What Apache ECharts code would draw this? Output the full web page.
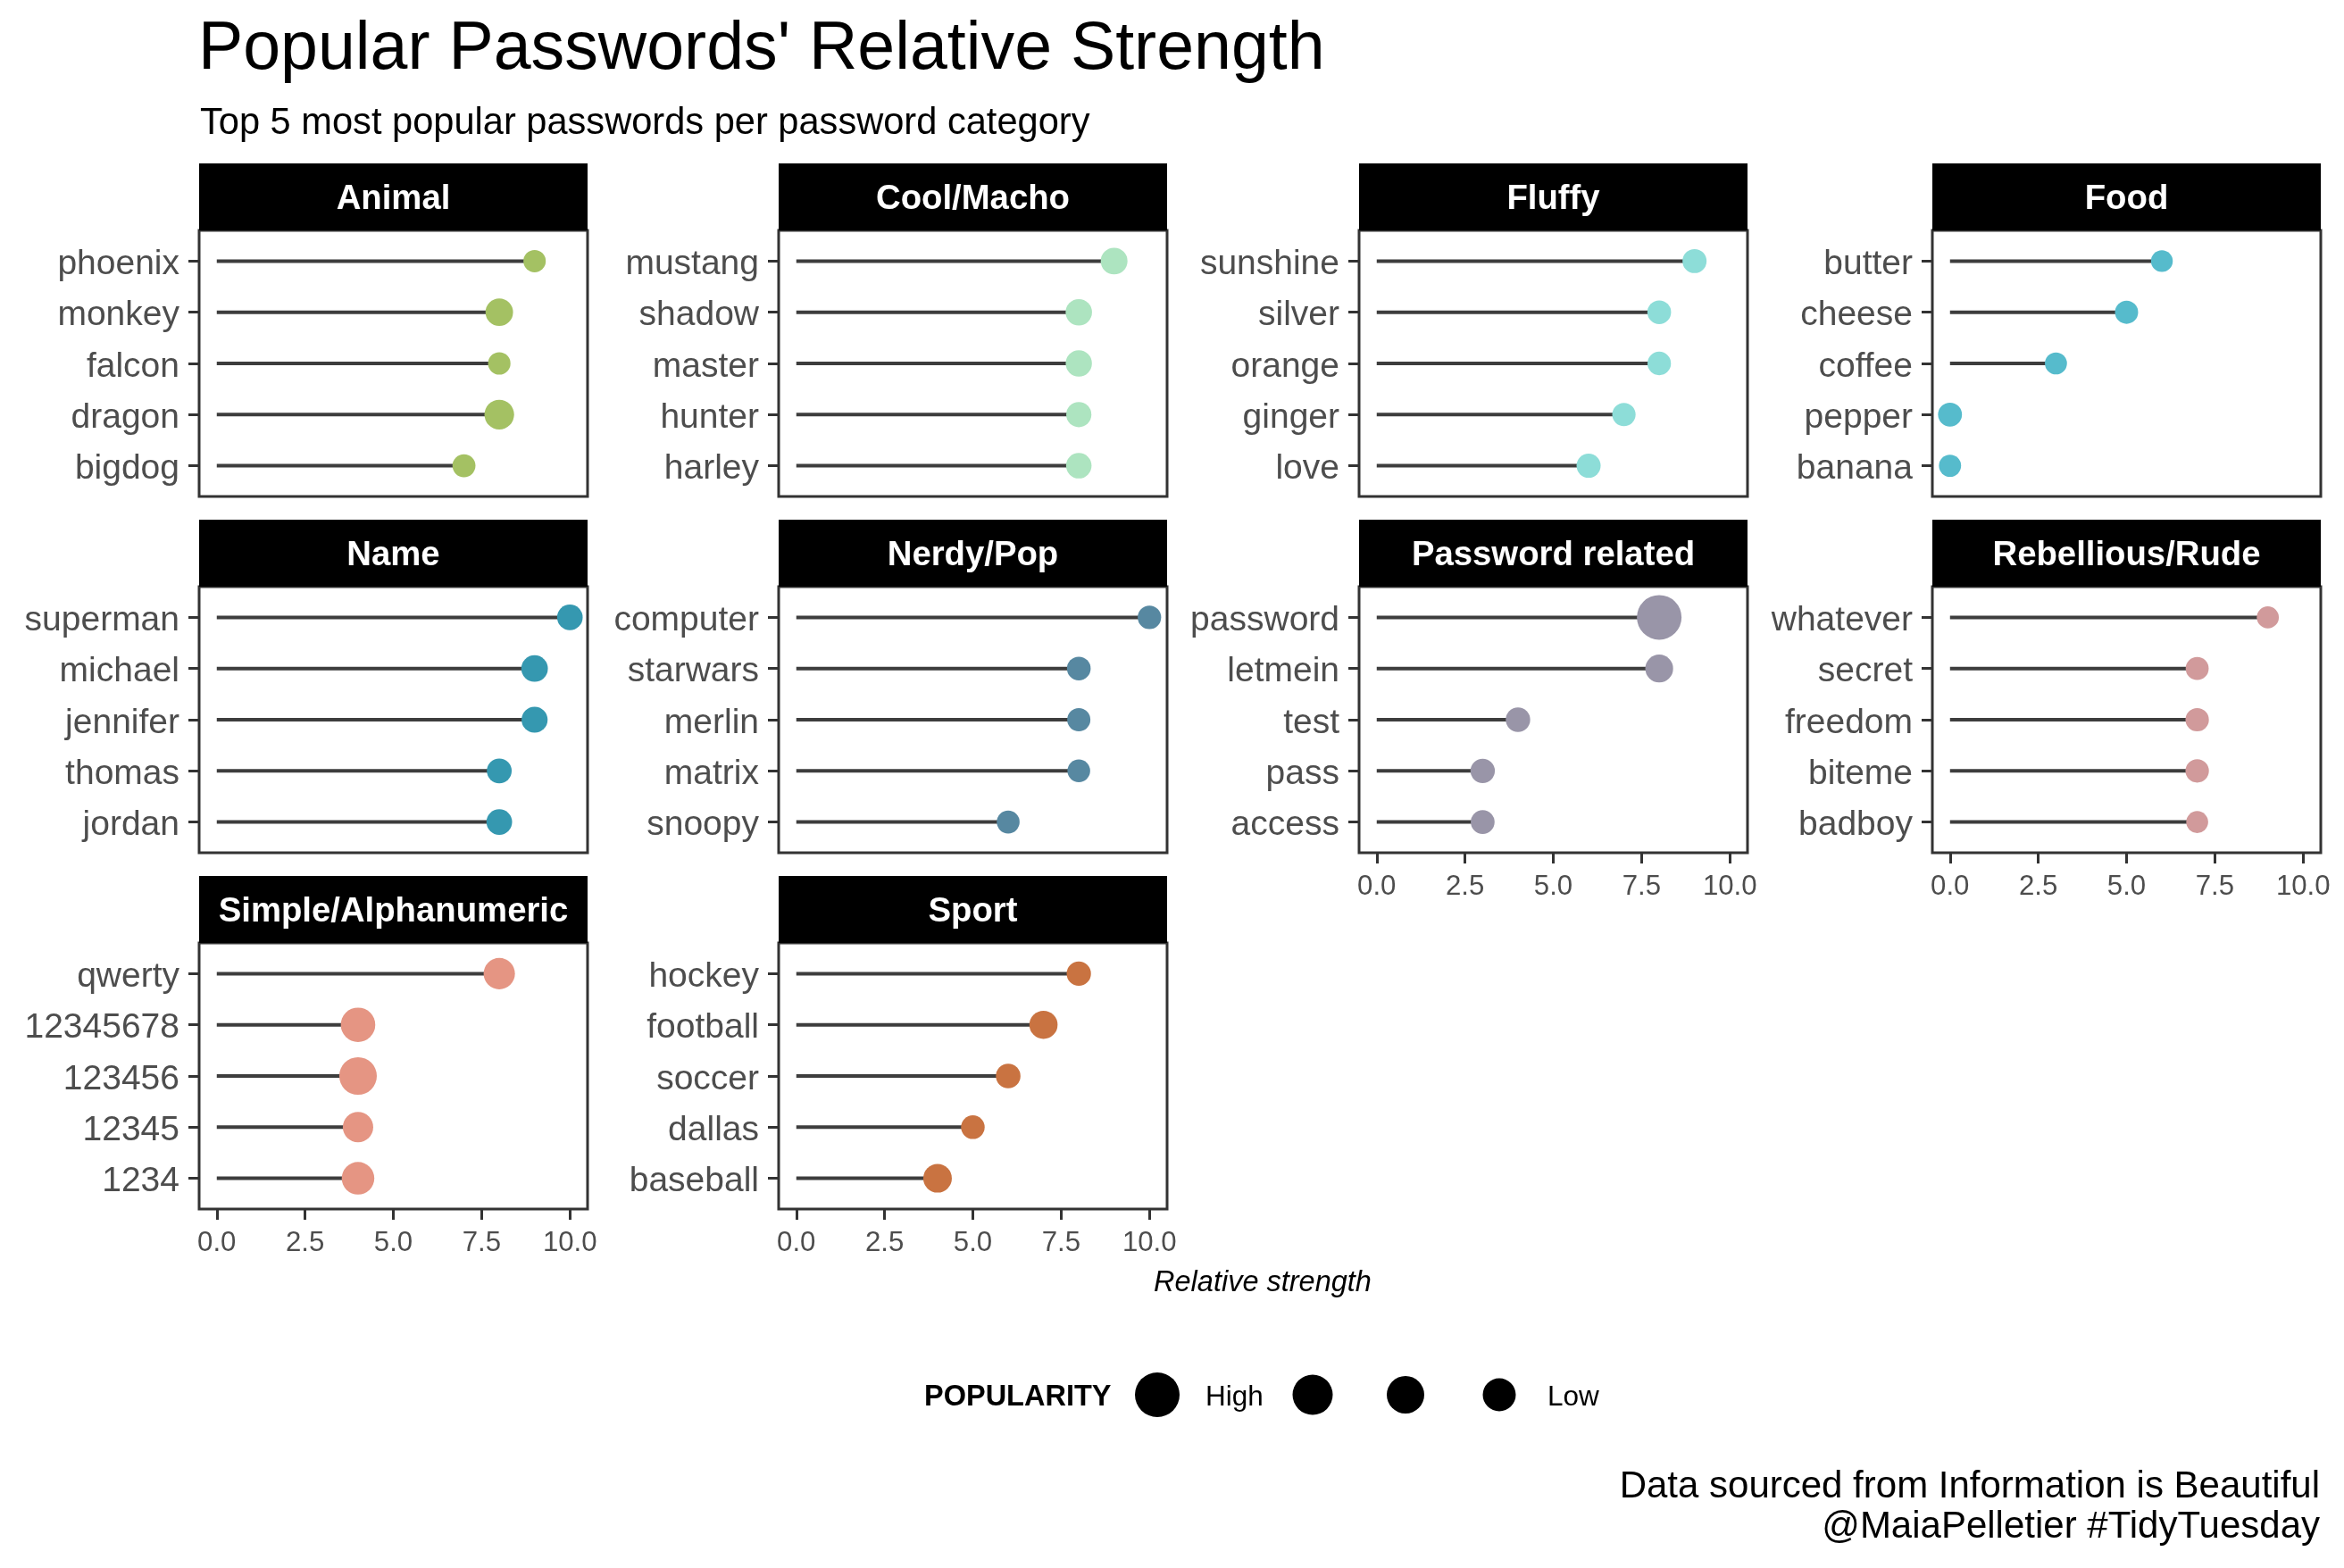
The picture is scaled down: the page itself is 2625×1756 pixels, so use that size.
<!DOCTYPE html>
<html>
<head>
<meta charset="utf-8">
<script src="https://cdn.jsdelivr.net/npm/echarts@6/dist/echarts.min.js"></script>
<style>
html,body{margin:0;padding:0;background:#ffffff;}
#chart{width:2625px;height:1756px;}
</style>
</head>
<body>
<div id="chart"></div>
<script>
// ---------------- DATA ----------------
const categories = ['Animal', 'Cool/Macho', 'Fluffy', 'Food', 'Name', 'Nerdy/Pop',
  'Password related', 'Rebellious/Rude', 'Simple/Alphanumeric', 'Sport'];

// passwords per category, listed top to bottom as shown
const passwords = [
  ['phoenix', 'monkey', 'falcon', 'dragon', 'bigdog'],
  ['mustang', 'shadow', 'master', 'hunter', 'harley'],
  ['sunshine', 'silver', 'orange', 'ginger', 'love'],
  ['butter', 'cheese', 'coffee', 'pepper', 'banana'],
  ['superman', 'michael', 'jennifer', 'thomas', 'jordan'],
  ['computer', 'starwars', 'merlin', 'matrix', 'snoopy'],
  ['password', 'letmein', 'test', 'pass', 'access'],
  ['whatever', 'secret', 'freedom', 'biteme', 'badboy'],
  ['qwerty', '12345678', '123456', '12345', '1234'],
  ['hockey', 'football', 'soccer', 'dallas', 'baseball']
];

// relative strength (x value)
const strength = [
  [9, 8, 8, 8, 7],
  [9, 8, 8, 8, 8],
  [9, 8, 8, 7, 6],
  [6, 5, 3, 0, 0],
  [10, 9, 9, 8, 8],
  [10, 8, 8, 8, 6],
  [8, 8, 4, 3, 3],
  [9, 7, 7, 7, 7],
  [8, 4, 4, 4, 4],
  [8, 7, 6, 5, 4]
];

// popularity rank (1 = most popular), drives point size
const popularityRank = [
  [180, 12, 160, 7, 96],
  [15, 17, 18, 27, 24],
  [47, 59, 68, 75, 46],
  [400, 88, 250, 51, 220],
  [23, 16, 19, 32, 22],
  [71, 58, 84, 130, 110],
  [1, 11, 38, 39, 53],
  [250, 97, 70, 69, 300],
  [5, 3, 2, 6, 4],
  [41, 10, 35, 61, 9]
];

const xTickValues = [0, 2.5, 5, 7.5, 10];
const legendLabels = ['High', '', '', 'Low'];

// ---------------- STYLE / LAYOUT ----------------
const palette = ['#A4C163', '#ADE4C0', '#8DDDD8', '#56BBCC', '#3598B0',
  '#5788A1', '#9995A8', '#D19A9B', '#E59583', '#C97341'];
const FONT = "'Liberation Sans', Arial, Helvetica, sans-serif";
const colLeft = [223, 872, 1522, 2164];
const rowTop = [258, 657, 1056];
const PW = 435, PH = 298, STRIP = 75;
const bottomPanels = [6, 7, 8, 9];

function dotSize(rank) { return 23 + 27 / Math.sqrt(rank); }

const grids = [], xAxes = [], yAxes = [], series = [], graphics = [];

categories.forEach((cat, i) => {
  const row = Math.floor(i / 4), col = i % 4;
  const left = colLeft[col], top = rowTop[row];
  const names = passwords[i];
  const isBottom = bottomPanels.indexOf(i) >= 0;
  grids.push({
    left: left, top: top, width: PW, height: PH, show: true,
    borderColor: '#333333', borderWidth: 3, backgroundColor: '#ffffff'
  });
  xAxes.push({
    gridIndex: i, type: 'value', min: -0.5, max: 10.5, position: 'bottom',
    axisLine: { show: false, onZero: false }, splitLine: { show: false },
    axisTick: { show: isBottom, customValues: xTickValues, length: 12, lineStyle: { color: '#333333', width: 3 } },
    axisLabel: { show: isBottom, customValues: xTickValues, formatter: v => Number(v).toFixed(1),
      margin: 23, color: '#4D4D4D', fontSize: 31.2, fontFamily: FONT }
  });
  yAxes.push({
    gridIndex: i, type: 'value', min: 0.4, max: 5.6, position: 'left',
    axisLine: { show: false, onZero: false }, splitLine: { show: false },
    axisTick: { show: true, customValues: [1, 2, 3, 4, 5], length: 12, lineStyle: { color: '#333333', width: 3 } },
    axisLabel: { customValues: [1, 2, 3, 4, 5], formatter: v => names[5 - Math.round(v)] || '',
      margin: 22, verticalAlign: 'top', lineHeight: 8, color: '#4D4D4D', fontSize: 39, fontFamily: FONT }
  });
  const data = names.map((n, j) => [strength[i][j], 5 - j, popularityRank[i][j]]);
  series.push({
    type: 'custom', xAxisIndex: i, yAxisIndex: i, data: data, silent: true, z: 2,
    encode: { x: 0, y: 1 },
    renderItem: function (params, api) {
      const v = api.value(0), y = api.value(1);
      const p0 = api.coord([0, y]);
      const p1 = api.coord([v, y]);
      return { type: 'line', shape: { x1: p0[0], y1: p0[1], x2: p1[0], y2: p1[1] },
        style: { stroke: '#3d3d3d', lineWidth: 4 } };
    }
  });
  series.push({
    type: 'scatter', xAxisIndex: i, yAxisIndex: i, data: data, z: 3, clip: false, silent: true,
    symbol: 'circle', symbolSize: d => dotSize(d[2]),
    itemStyle: { color: palette[i], opacity: 1 }
  });
  graphics.push({ type: 'rect', shape: { x: left, y: top - STRIP, width: PW, height: STRIP },
    style: { fill: '#000000' }, z: 10 });
  graphics.push({ type: 'text', x: left + PW / 2, y: top - STRIP / 2 + 3, z: 11,
    style: { text: cat, fill: '#ffffff', font: 'bold 38.3px ' + FONT, align: 'center', verticalAlign: 'middle' } });
});

// axis title
graphics.push({ type: 'text', x: 1414, y: 1436.5,
  style: { text: 'Relative strength', fill: '#000000', font: 'italic 32.5px ' + FONT, align: 'center', verticalAlign: 'middle' } });

// size legend
graphics.push({ type: 'text', x: 1035, y: 1565,
  style: { text: 'POPULARITY', fill: '#000000', font: 'bold 32.5px ' + FONT, align: 'left', verticalAlign: 'middle' } });
const legendCx = [1296, 1470, 1574, 1679];
const legendD = [50, 45, 42, 37];
legendCx.forEach((cx, k) => {
  graphics.push({ type: 'circle', shape: { cx: cx, cy: 1562, r: legendD[k] / 2 }, style: { fill: '#000000' } });
  if (legendLabels[k]) {
    graphics.push({ type: 'text', x: cx + 54, y: 1565,
      style: { text: legendLabels[k], fill: '#000000', font: '31.5px ' + FONT, align: 'left', verticalAlign: 'middle' } });
  }
});

// caption
graphics.push({ type: 'text', x: 2598, y: 1643,
  style: { text: 'Data sourced from Information is Beautiful\n@MaiaPelletier #TidyTuesday', fill: '#000000',
    font: '42px ' + FONT, lineHeight: 45, align: 'right', verticalAlign: 'top' } });

const chart = echarts.init(document.getElementById('chart'), null, { renderer: 'canvas' });
chart.setOption({
  backgroundColor: '#ffffff',
  animation: false,
  title: [
    { text: "Popular Passwords' Relative Strength", left: 222, top: 19, padding: 0,
      textStyle: { fontSize: 75.3, lineHeight: 75.3, fontWeight: 'normal', color: '#000000', fontFamily: FONT } },
    { text: 'Top 5 most popular passwords per password category', left: 224, top: 118, padding: 0,
      textStyle: { fontSize: 41.6, lineHeight: 41.6, fontWeight: 'normal', color: '#000000', fontFamily: FONT } }
  ],
  grid: grids,
  xAxis: xAxes,
  yAxis: yAxes,
  series: series,
  graphic: graphics
});
</script>
</body>
</html>
